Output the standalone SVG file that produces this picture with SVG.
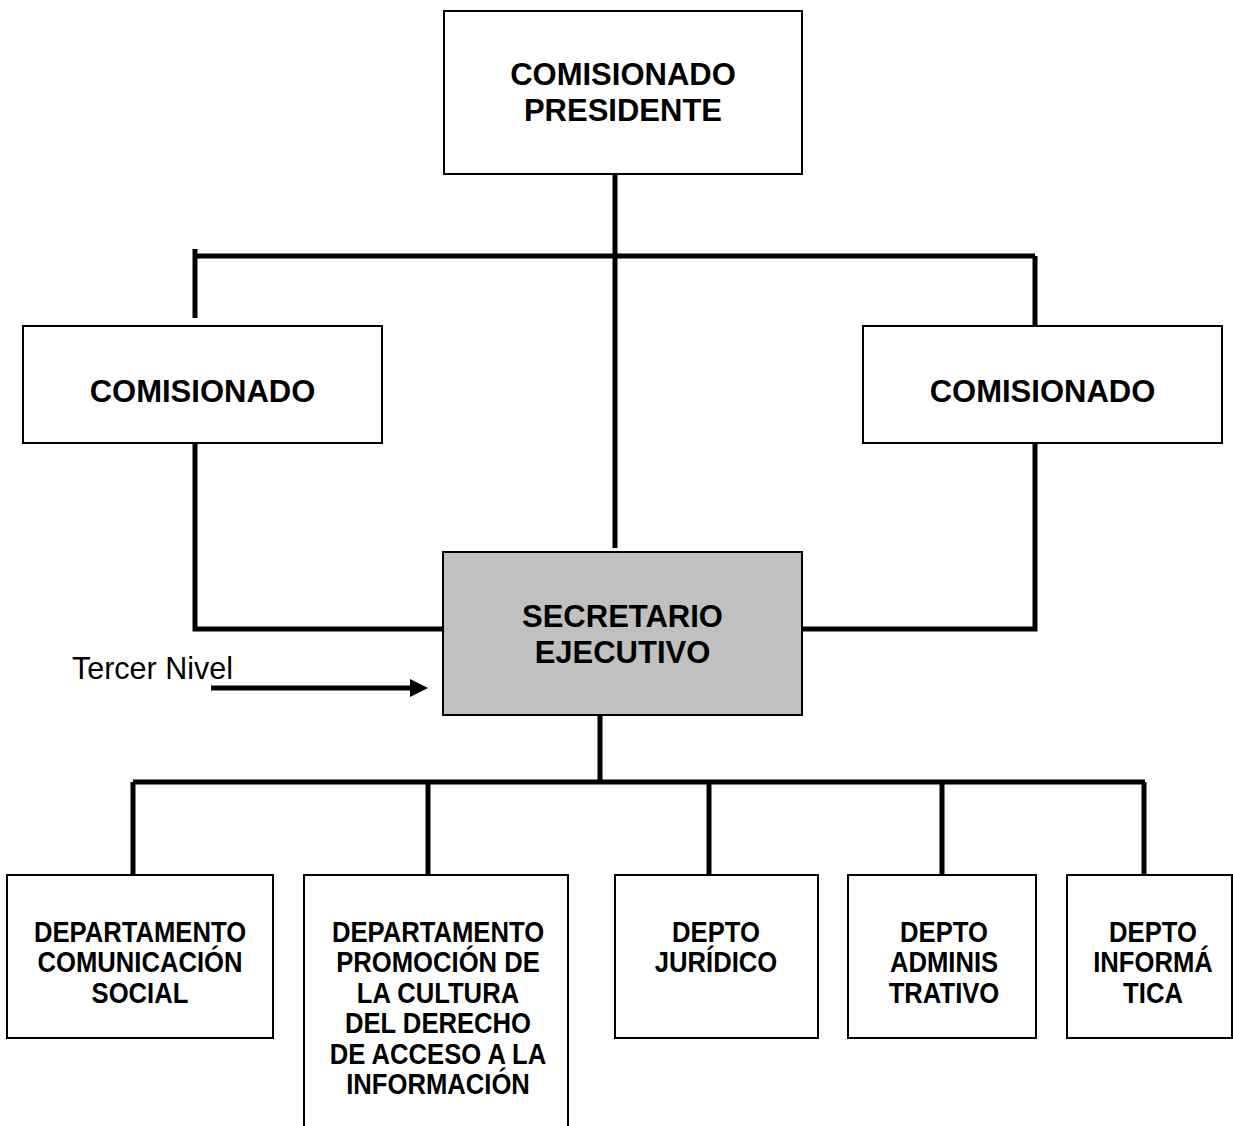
<svg xmlns="http://www.w3.org/2000/svg" width="1233" height="1126" viewBox="0 0 1233 1126">
<style>
.box{fill:#fff;stroke:#000;stroke-width:2}
.gray{fill:#c0c0c0;stroke:#000;stroke-width:2}
.conn{fill:none;stroke:#000;stroke-width:5;stroke-linecap:butt}
.t{font-family:"Liberation Sans",Arial,sans-serif;font-weight:bold;font-size:31px;text-anchor:middle;fill:#000}
.s{font-family:"Liberation Sans",Arial,sans-serif;font-weight:bold;font-size:30px;text-anchor:middle;fill:#000}
.r{font-family:"Liberation Sans",Arial,sans-serif;font-size:30.5px;fill:#000}
</style>
<defs>
<marker id="ah" markerUnits="userSpaceOnUse" markerWidth="20" markerHeight="20" refX="0" refY="9" orient="auto">
<polygon points="0,0 18,9 0,18" fill="#000"/>
</marker>
</defs>
<rect width="1233" height="1126" fill="#fff"/>
<g id="connectors">
<path class="conn" d="M615,174 V548"/>
<path class="conn" d="M195,256 H1035"/>
<path class="conn" d="M195,249 V318"/>
<path class="conn" d="M1035,256 V326"/>
<path class="conn" d="M195,443 V629 H443"/>
<path class="conn" d="M1035,443 V629 H802"/>
<path class="conn" d="M600,715 V782"/>
<path class="conn" d="M133,782 H1145"/>
<path class="conn" d="M133,782 V875"/>
<path class="conn" d="M428,782 V875"/>
<path class="conn" d="M709,782 V875"/>
<path class="conn" d="M942,782 V875"/>
<path class="conn" d="M1144,782 V875"/>
<line x1="211" y1="688" x2="410" y2="688" stroke="#000" stroke-width="5" marker-end="url(#ah)"/>
</g>
<g id="n-presidente">
<rect class="box" x="444" y="11" width="358" height="163"/>
<text class="t" x="623" y="85">COMISIONADO</text>
<text class="t" x="623" y="121">PRESIDENTE</text>
</g>
<g id="n-comisionado-izq">
<rect class="box" x="23" y="326" width="359" height="117"/>
<text class="t" x="202.5" y="402">COMISIONADO</text>
</g>
<g id="n-comisionado-der">
<rect class="box" x="863" y="326" width="359" height="117"/>
<text class="t" x="1042.5" y="402">COMISIONADO</text>
</g>
<g id="n-secretario">
<rect class="gray" x="443" y="552" width="359" height="163"/>
<text class="t" x="622.5" y="627">SECRETARIO</text>
<text class="t" x="622.5" y="663">EJECUTIVO</text>
</g>
<g id="n-tercer-nivel">
<text class="r" x="72" y="679">Tercer Nivel</text>
</g>
<g id="n-comunicacion">
<rect class="box" x="7" y="875" width="266" height="163"/>
<text class="s" transform="translate(140,0) scale(0.855,1)"><tspan x="0" y="942">DEPARTAMENTO</tspan><tspan x="0" y="972.5">COMUNICACIÓN</tspan><tspan x="0" y="1003">SOCIAL</tspan></text>
</g>
<g id="n-promocion">
<path class="box" d="M304,1130 V875 H568 V1130"/>
<text class="s" transform="translate(438,0) scale(0.855,1)"><tspan x="0" y="942">DEPARTAMENTO</tspan><tspan x="0" y="972.5">PROMOCIÓN DE</tspan><tspan x="0" y="1003">LA CULTURA</tspan><tspan x="0" y="1033.5">DEL DERECHO</tspan><tspan x="0" y="1064">DE ACCESO A LA</tspan><tspan x="0" y="1094.5">INFORMACIÓN</tspan></text>
</g>
<g id="n-juridico">
<rect class="box" x="615" y="875" width="203" height="163"/>
<text class="s" transform="translate(716,0) scale(0.855,1)"><tspan x="0" y="942">DEPTO</tspan><tspan x="0" y="972.5">JURÍDICO</tspan></text>
</g>
<g id="n-administrativo">
<rect class="box" x="848" y="875" width="188" height="163"/>
<text class="s" transform="translate(944,0) scale(0.855,1)"><tspan x="0" y="942">DEPTO</tspan><tspan x="0" y="972.5">ADMINIS</tspan><tspan x="0" y="1003">TRATIVO</tspan></text>
</g>
<g id="n-informatica">
<rect class="box" x="1067" y="875" width="165" height="163"/>
<text class="s" transform="translate(1153,0) scale(0.855,1)"><tspan x="0" y="942">DEPTO</tspan><tspan x="0" y="972.5">INFORMÁ</tspan><tspan x="0" y="1003">TICA</tspan></text>
</g>
</svg>
